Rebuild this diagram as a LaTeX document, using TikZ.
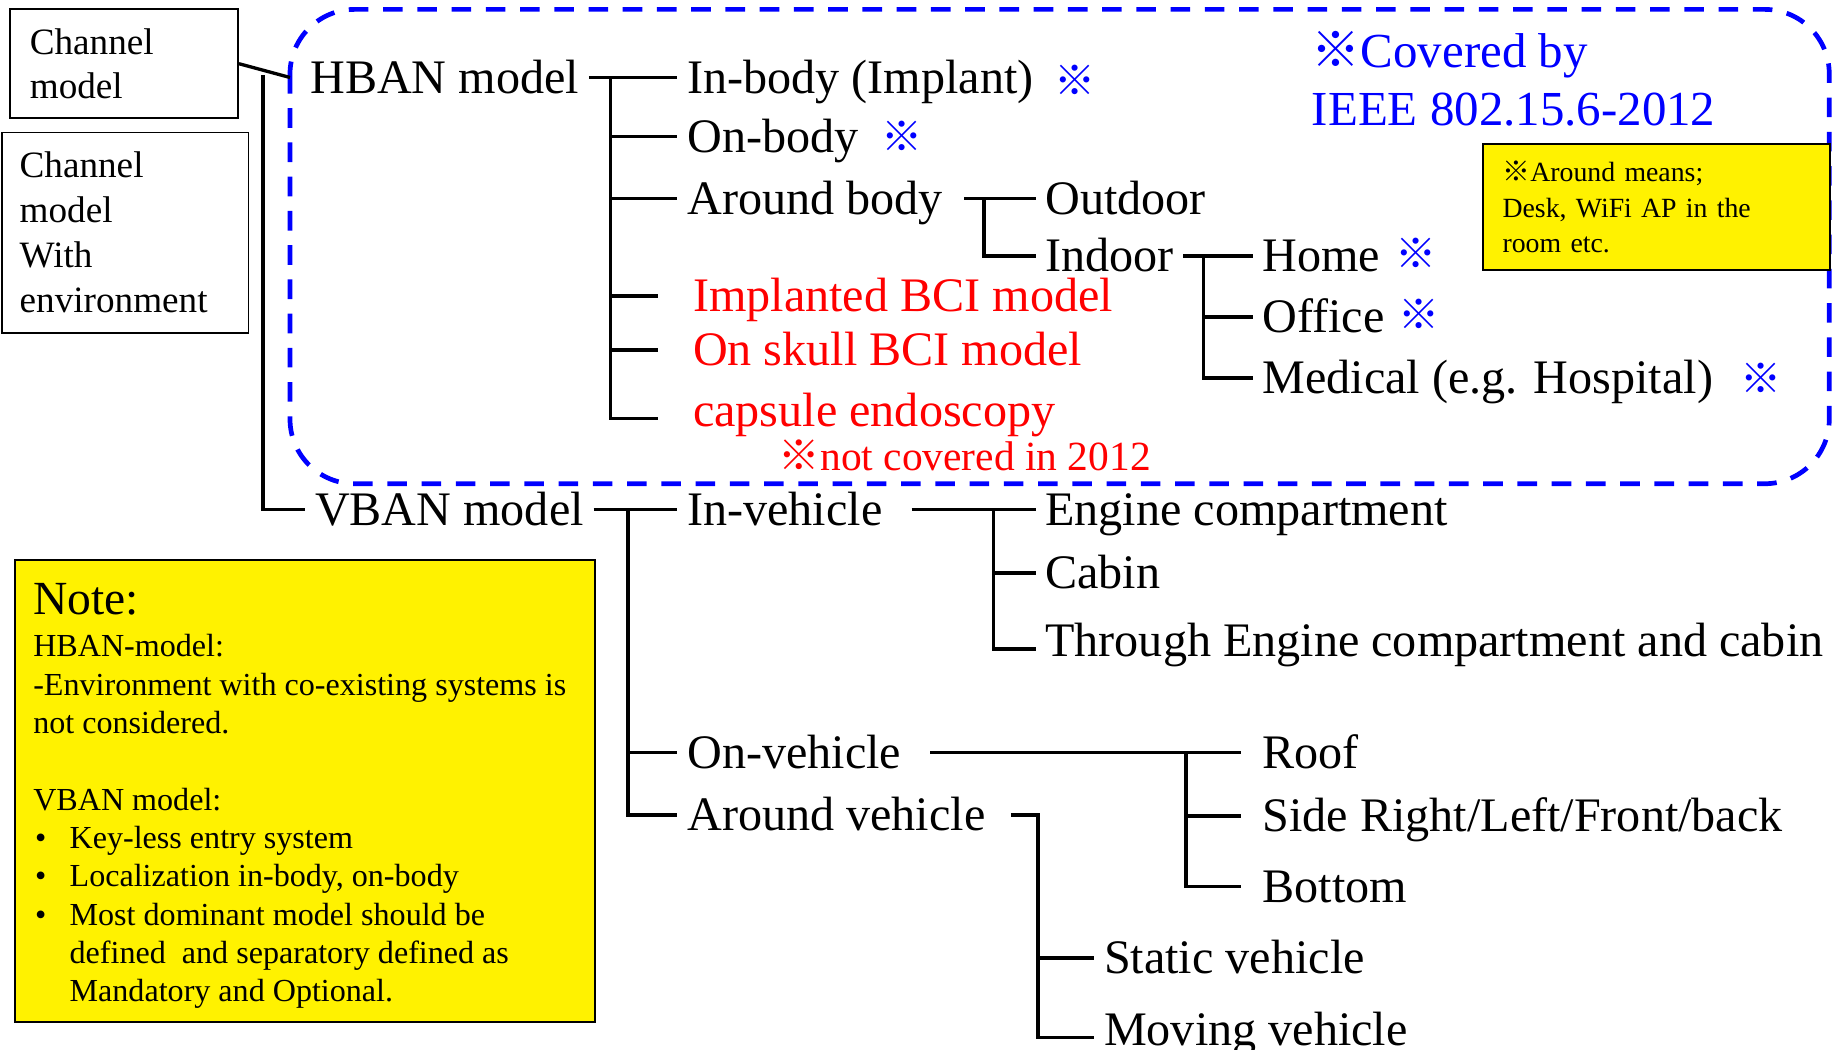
\documentclass[tikz,border=0pt]{standalone}
\usepackage{fontspec}
\setmainfont{Liberation Serif}
\newfontfamily\cjkfont{Noto Sans CJK JP}
\newcommand{\refmark}{{\cjkfont ※}}
\usetikzlibrary{positioning}

\begin{document}
\begin{tikzpicture}[x=0.6pt,y=-0.6pt,
    lbl/.style={anchor=west, inner xsep=4.8pt, inner ysep=0pt, text height=16.2pt, text depth=0pt, font=\fontsize{24.6}{29}\selectfont},
    tree/.style={line width=1.7pt},
    covmark/.style={blue, inner sep=0pt, font=\fontsize{21}{24}\selectfont},
    chbox/.style={draw, line width=0.9pt, anchor=north west, align=left, inner ysep=0pt},
    notebox/.style={draw, line width=0.9pt, fill=yellow, anchor=north west}]
  \useasboundingbox (0,0) rectangle (1568,894);

  \draw[blue, line width=2.4pt, dash pattern=on 10pt off 7.5pt, rounded corners=33pt] (247,8) rectangle (1558,412);

  \node[chbox, inner xsep=10pt, text width=96.4pt, minimum height=55.8pt, font=\fontsize{19}{22.2}\selectfont] (chm) at (8,7) {Channel\\model};
  \node[chbox, inner xsep=9pt, text width=108pt, minimum height=102.6pt, font=\fontsize{19}{23}\selectfont] (chenv) at (1,112) {Channel\\model\\With\\environment};

  \node[lbl] (hban) at (256,66) {HBAN model};
  \node[lbl] (vban) at (260,434) {VBAN model};
  \coordinate (hjoin) at (247,66);
  \coordinate (rbus) at (224,64);
  \draw[tree] (chm.east) -- (hjoin);
  \draw[tree] (rbus) |- (vban.west);

  % HBAN branch
  \node[lbl] (inbody) at (577,66) {In-body (Implant)};
  \node[lbl] (onbody) at (577,116) {On-body};
  \node[lbl] (aroundb) at (577,169) {Around body};
  \node[lbl, red] (bci1) at (582,252) {Implanted BCI model};
  \node[lbl, red] (bci2) at (582,298) {On skull BCI model};
  \node[lbl, red] (capsule) at (582,350) {capsule endoscopy};
  \node[covmark] (m1) at (916,68) {\refmark};
  \node[covmark] (m2) at (768,116) {\refmark};
  \coordinate (hbus) at (520,66);
  \draw[tree] (hban.east) -- (inbody.west);
  \draw[tree] (hbus) |- (onbody.west);
  \draw[tree] (hbus) |- (aroundb.west);
  \draw[tree, shorten >=13pt] (hbus |- bci1.west) -- (bci1.west);
  \draw[tree, shorten >=13pt] (hbus |- bci2.west) -- (bci2.west);
  \draw[tree, shorten >=13pt] (hbus) |- ([yshift=-4pt]capsule.west);

  \node[lbl] (outdoor) at (882,169) {Outdoor};
  \node[lbl] (indoor) at (882,218) {Indoor};
  \coordinate (abus) at (838,169);
  \draw[tree, shorten <=6pt] (aroundb.east) -- (outdoor.west);
  \draw[tree] (abus) |- (indoor.west);

  \node[lbl] (home) at (1067,218) {Home};
  \node[lbl] (office) at (1067,270) {Office};
  \node[lbl] (medical) at (1067,322) {Medical (e.g. Hospital)};
  \node[covmark] (m3) at (1206,216) {\refmark};
  \node[covmark] (m4) at (1209,268) {\refmark};
  \node[covmark] (m5) at (1500,322) {\refmark};
  \coordinate (ibus) at (1025,218);
  \draw[tree] (indoor.east) -- (home.west);
  \draw[tree] (ibus) |- (office.west);
  \draw[tree] (ibus) |- (medical.west);

  \node[red, anchor=west, inner sep=0pt, text height=13.9pt, text depth=0pt, font=\fontsize{21.2}{24}\selectfont] (notcov) at (663,389) {\refmark not covered in 2012};
  \node[blue, anchor=west, align=left, inner sep=0pt, font=\fontsize{25}{29.4}\selectfont] (covered) at (1117,67) {\refmark Covered by\\IEEE 802.15.6-2012};
  \node[notebox, align=left, inner xsep=10.2pt, text width=157.2pt, minimum height=64.2pt, font=\fontsize{14.2}{18}\selectfont] (around) at (1262,122) {\refmark Around means;\\Desk, WiFi AP in the\\room etc.};

  % VBAN branch
  \node[lbl] (invehicle) at (577,434) {In-vehicle};
  \node[lbl] (onvehicle) at (577,641) {On-vehicle};
  \node[lbl] (aroundv) at (577,694) {Around vehicle};
  \coordinate (vbus) at (535,434);
  \draw[tree] (vban.east) -- (invehicle.west);
  \draw[tree] (vbus |- onvehicle.west) -- (onvehicle.west);
  \draw[tree] (vbus) |- (aroundv.west);

  \node[lbl] (engine) at (882,434) {Engine compartment};
  \node[lbl] (cabin) at (882,488) {Cabin};
  \node[lbl] (through) at (882,546) {Through Engine compartment and cabin};
  \coordinate (ivbus) at (846,434);
  \draw[tree, shorten <=10pt] (invehicle.east) -- (engine.west);
  \draw[tree] (ivbus |- cabin.west) -- (cabin.west);
  \draw[tree] (ivbus) |- ([yshift=-4pt]through.west);

  \node[lbl] (roof) at (1067,641) {Roof};
  \node[lbl] (side) at (1067,695) {Side Right/Left/Front/back};
  \node[lbl] (bottom) at (1067,755) {Bottom};
  \coordinate (ovbus) at (1010,641);
  \draw[tree, shorten <=10pt, shorten >=6pt] (onvehicle.east) -- (roof.west);
  \draw[tree, shorten >=6pt] (ovbus |- side.west) -- (side.west);
  \draw[tree, shorten >=6pt] (ovbus) |- (bottom.west);

  \node[lbl] (static) at (932,816) {Static vehicle};
  \node[lbl] (moving) at (932,877) {Moving vehicle};
  \coordinate (avbus) at (884,694);
  \draw[tree, shorten <=8pt] (aroundv.east) -- (avbus) |- ([yshift=-4pt]moving.west);
  \draw[tree] (avbus |- static.west) -- (static.west);

  % note
  \node[notebox, minimum width=296.4pt, minimum height=236.4pt] (note) at (12,476) {};
  \node[anchor=west, inner sep=0pt, text height=16pt, text depth=0pt, font=\fontsize{24.3}{28}\selectfont] (notetitle) at (28,510) {Note:};
  \node[anchor=north west, align=left, inner sep=0pt, font=\fontsize{16.4}{19.6}\selectfont] (notetext) at (28,540)
    {HBAN-model:\\
     -Environment with co-existing systems is\\
     not considered.\\[19.6pt]
     VBAN model:\\
     \makebox[18.6pt][l]{\hspace{1pt}\textbullet}Key-less entry system\\
     \makebox[18.6pt][l]{\hspace{1pt}\textbullet}Localization in-body, on-body\\
     \makebox[18.6pt][l]{\hspace{1pt}\textbullet}Most dominant model should be\\
     \hspace*{18.6pt}defined~ and separatory defined as\\
     \hspace*{18.6pt}Mandatory and Optional.};
\end{tikzpicture}
\end{document}
